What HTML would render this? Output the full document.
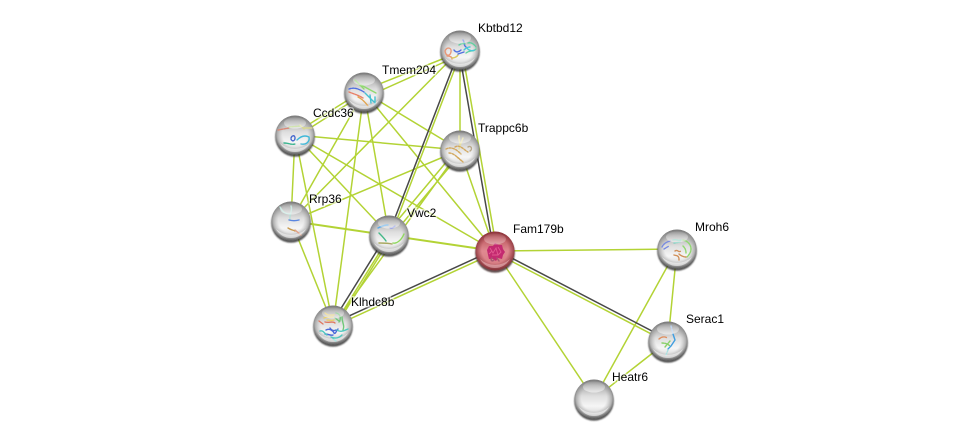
<!DOCTYPE html>
<html>
<head>
<meta charset="utf-8">
<style>
html,body{margin:0;padding:0;background:#fff;width:975px;height:444px;overflow:hidden}
svg{display:block}
text{font-family:"Liberation Sans",sans-serif;font-size:12px;fill:#000;paint-order:stroke;stroke:rgba(255,255,255,.55);stroke-width:3px}
.g{stroke:#b3d335;stroke-width:1.5;fill:none}
.k{stroke:#484848;stroke-width:1.5;fill:none}
.p{fill:none;stroke-width:1.4;stroke-linecap:round;stroke-linejoin:round}
</style>
</head>
<body>
<svg width="975" height="444" viewBox="0 0 975 444" xmlns="http://www.w3.org/2000/svg">
<defs>
<filter id="b" x="-30%" y="-30%" width="160%" height="160%"><feGaussianBlur stdDeviation=".9"/></filter>
<filter id="c" x="-30%" y="-30%" width="160%" height="160%"><feGaussianBlur stdDeviation=".35"/></filter>
<linearGradient id="s" x1="0" y1="0" x2="0" y2="1">
<stop offset="0" stop-color="#7c7c7c"/><stop offset=".14" stop-color="#a6a6a6"/><stop offset=".42" stop-color="#dedede"/><stop offset=".68" stop-color="#f6f6f6"/><stop offset=".86" stop-color="#dcdcdc"/><stop offset="1" stop-color="#a8a8a8"/>
</linearGradient>
<radialGradient id="e" cx="50%" cy="47%" r="52%">
<stop offset=".62" stop-color="#999" stop-opacity="0"/><stop offset=".88" stop-color="#777" stop-opacity=".5"/><stop offset="1" stop-color="#5c5c5c" stop-opacity=".9"/>
</radialGradient>
<linearGradient id="r" x1="0" y1="0" x2="0" y2="1">
<stop offset="0" stop-color="#9c4046"/><stop offset=".2" stop-color="#c25f66"/><stop offset=".5" stop-color="#e08a91"/><stop offset=".82" stop-color="#d87e84"/><stop offset="1" stop-color="#b45c62"/>
</linearGradient>
<radialGradient id="e2" cx="50%" cy="47%" r="52%">
<stop offset=".65" stop-color="#8a2f36" stop-opacity="0"/><stop offset="1" stop-color="#7a2a30" stop-opacity=".85"/>
</radialGradient>
<linearGradient id="h" x1="0" y1="0" x2="0" y2="1">
<stop offset="0" stop-color="#fff" stop-opacity=".15"/><stop offset="1" stop-color="#fff" stop-opacity=".8"/>
</linearGradient>
<g id="ball">
<circle cy="2" r="19.8" fill="#2e2e2e" opacity=".8" filter="url(#b)"/>
<circle r="19.5" fill="url(#s)"/>
<circle r="19.5" fill="url(#e)"/>
</g>
<g id="gloss">
<ellipse cx="0" cy="-12" rx="11" ry="5.5" fill="url(#h)" opacity=".7"/>
<path d="M-15 8A17 17 0 0 0 15 8A22 22 0 0 1-15 8Z" fill="#fff" opacity=".55"/>
</g>
</defs>

<!-- green edges -->
<g class="g">
<path d="M364 90L460 52M364 98L460 55M460 50L291 221M462 50L391 235M460 50V150M462 50L497 251" />
<path d="M364 90L295 133M365 93L296 137M364 92L460 150M364 92L495 251M364 92L389 235M364 92L333 325M364 92L291 221"/>
<path d="M295 135L460 150M295 135L291 221M295 135L333 325M295 135L389 235M295 135L495 251"/>
<path d="M460 150L291 221M458 148L387 233M462 152L391 237M460 150L333 325M460 150L495 251"/>
<path d="M291 221L333 325"/>
<path d="M291 221L495 251" stroke-width="1.9"/>
<path d="M390 235.500L334 325.500M391.500 236.600L335.500 326.600"/>
<path d="M333.600 326.400L495.600 252.400"/>
<path d="M495 251L677 249M494.300 252.300L667.300 342.300M495 251L594 399M677 249L668 341M677 249L594 399M668 341L594 399"/>
</g>
<!-- dark edges -->
<g class="k">
<path d="M459.400 50L388.400 235M458.800 50L493.800 251M387.300 234L331.300 324M332.400 323.600L494.400 249.600M495.700 249.700L668.700 339.700"/>
</g>

<!-- Kbtbd12 -->
<g transform="translate(460,50)"><use href="#ball"/>
<g filter="url(#c)">
<path class="p" stroke="#e89878" stroke-width="2.2" d="M-15 1c2-5 7-3 6 1s-5 5-6-1M-13 6c3 0 5 1 5 3"/>
<path class="p" stroke="#d8c860" stroke-width="2" d="M-8 8c2 0 5-1 6-3"/>
<path class="p" stroke="#5070e0" stroke-width="1.9" d="M-6 0c2 3 5 2 7 0M3-10c2 2 0 5 3 7M-2 4l6-2"/>
<path class="p" stroke="#60d0a0" stroke-width="3" stroke-dasharray="2 1" d="M-1-5c3-2 5-2 6-1M6 3c4-3 7-1 10-4M8-7c3-1 6 1 8 4"/>
<path class="p" stroke="#45c8d8" stroke-width="3" stroke-dasharray="2 1" d="M7-2c2 3 5 3 8 2M4 0c2-2 4-3 6-3"/>
</g><use href="#gloss"/></g>
<!-- Tmem204 -->
<g transform="translate(364,92)"><use href="#ball"/>
<g filter="url(#c)">
<path class="p" stroke="#90d870" stroke-width="1.2" d="M-9-12l9 9M-3-7l15 8"/>
<path class="p" stroke="#5070e0" stroke-width="2.4" stroke-dasharray="2 1" d="M-15-3c5-2 10 0 15 3"/>
<path class="p" stroke="#e88068" stroke-width="2.4" stroke-dasharray="2 1" d="M-15 0c5 2 9 3 14 6"/>
<path class="p" stroke="#e2a450" stroke-width="2.4" stroke-dasharray="2 1" d="M-6 5c4 2 7 5 10 9"/>
<path class="p" stroke="#45c0d0" stroke-width="1.2" d="M1 1l9 9M6 3l1 8M11 5l0 7"/>
</g><use href="#gloss"/></g>
<!-- Ccdc36 -->
<g transform="translate(295,135)"><use href="#ball"/>
<g filter="url(#c)">
<path class="p" stroke="#d98a78" stroke-width="3" stroke-dasharray="2 1" d="M-17-5l11-2"/>
<path class="p" stroke="#a8cc68" stroke-width="2.6" stroke-dasharray="2 1" d="M-6-8l12-1"/>
<path class="p" stroke="#d8d890" stroke-width="1" d="M5-10l4 4M9-7l8 0"/>
<path class="p" stroke="#4466cc" stroke-width="3" stroke-dasharray="2 1" d="M-4 3c1-3 4-3 4 0s-3 4-4 1"/>
<path class="p" stroke="#3eb590" stroke-width="2.4" stroke-dasharray="2 1" d="M-11 8c5 0 7 2 11 1"/>
<path class="p" stroke="#40b8d8" stroke-width="1.2" d="M2 5c4-4 8-5 12-3c1 5-3 8-8 7"/>
</g><use href="#gloss"/></g>
<!-- Trappc6b -->
<g transform="translate(460,150)"><use href="#ball"/>
<g filter="url(#c)">
<path class="p" stroke="#e8e0a0" stroke-width="1.6" d="M-1-14c-1 6 3 7 0 13M3-12l-4 10"/>
<path class="p" stroke="#d2a85e" stroke-width="2.6" stroke-dasharray="2 1.4" d="M-14-1c6-3 11 1 15 5M-11 3c5 0 9 5 13 8M-5-3c5-3 9 3 13 5M-3 7l6 5"/>
<path class="p" stroke="#b8a88a" d="M8-3c3-2 5 2 2 4"/>
</g><use href="#gloss"/></g>
<!-- Rrp36 -->
<g transform="translate(291,221)"><use href="#ball"/>
<g filter="url(#c)">
<path class="p" stroke="#b8e0d8" stroke-width=".9" d="M-11-14c3 6 6 7 11 7M0-15c2 5-2 8-1 14"/>
<path class="p" stroke="#5a86e0" stroke-width="3" d="M-2-1c4 1 6 1 10 0"/>
<path class="p" stroke="#c89a50" stroke-width="3" d="M-3 7c3 2 5 2 7 3"/>
<path class="p" stroke="#e0a088" stroke-width="1" d="M4 9l6 5"/>
</g><use href="#gloss"/></g>
<!-- Vwc2 -->
<g transform="translate(389,235)"><use href="#ball"/>
<g filter="url(#c)">
<path class="p" stroke="#58a8e8" stroke-width="3" d="M-11-7c4-2 7-3 10-3"/>
<path class="p" stroke="#45b888" stroke-width="3" d="M-10-2c3 3 5 5 7 8"/>
<path class="p" stroke="#a8a860" stroke-width="3" d="M-10 8c5 0 9 0 13 1"/>
<path class="p" stroke="#90d860" d="M4 8c3 1 8-2 11-9"/>
<path class="p" stroke="#7a88e0" stroke-width="1" d="M1-7c2 1 4-1 5-2"/>
</g><use href="#gloss"/></g>
<!-- Klhdc8b -->
<g transform="translate(333,325)"><use href="#ball"/>
<g filter="url(#c)">
<path class="p" stroke="#e8d070" stroke-width="1.4" d="M-8-12c3 3 6 2 9 2M-9-7c4-2 7 0 9-1M-6-5c3 0 5 1 7 0"/>
<path class="p" stroke="#70c878" stroke-width="1.4" d="M3-12c5 1 5 6 3 9M9-8c0 6 3 8 1 13M2-7c2 1 3 3 5 3"/>
<path class="p" stroke="#e07860" stroke-width="1.4" d="M-14-4l4 3M-8-3c4 1 8-1 10 1"/>
<path class="p" stroke="#4a68d8" stroke-width="1.5" d="M-7 5c4-2 7 1 8 3s3-3 4-4M-8 9c4 0 6 2 8 1M-3 3c2 3 4 3 6 2"/>
<path class="p" stroke="#50c8c0" stroke-width="1.4" d="M-13 6c3-1 4 2 7 4M4 5c4 3 8 0 11-1M-2 12c4 2 8 1 11-2M0 14l3 2"/>
</g><use href="#gloss"/></g>
<!-- Fam179b -->
<g transform="translate(495,251)">
<circle cy="2" r="19.8" fill="#3a2022" opacity=".8" filter="url(#b)"/>
<circle r="19.5" fill="url(#r)"/>
<circle r="19.5" fill="url(#e2)"/>
<g filter="url(#c)">
<path d="M-8-1l2-4 4 0 2-3 4 2 3 0 1 4 2 3-2 3-1 4-4-1-2 3-3-2-4 0-1-4z" fill="#c42a70"/>
<path d="M-5-3l3 5 3-5 2 7-6 0M3-4l3 5-3 3M-6 3l3-3" stroke="#e25a90" stroke-width=".9" fill="none"/>
<path class="p" stroke="#a85a70" stroke-width=".8" d="M-3 7c-2 2 0 4 2 2M2 7l2 3"/>
</g>
<ellipse cx="0" cy="-12" rx="11" ry="5.5" fill="url(#h)" opacity=".45"/>
<path d="M-15 8A17 17 0 0 0 15 8A22 22 0 0 1-15 8Z" fill="#f6c8cc" opacity=".5"/>
</g>
<!-- Mroh6 -->
<g transform="translate(677,249)"><use href="#ball"/>
<g filter="url(#c)">
<path class="p" stroke="#7a8ce0" stroke-width="1.7" stroke-dasharray="2 1" d="M-15-2c2-4 5-5 8-6M-13 0l5-3"/>
<path class="p" stroke="#80d0c0" stroke-width="1.7" stroke-dasharray="2 1" d="M-4-9c3-1 5 1 8 0M-3-6l6-1"/>
<path class="p" stroke="#90d870" stroke-width="2.2" stroke-dasharray="2 1" d="M6-9c5 1 8 5 8 9c0 3-2 6-4 8M6-3c2 2 3 4 3 7"/>
<path class="p" stroke="#d0905a" stroke-width="2.6" stroke-dasharray="2.5 .8" d="M-2 2c3-2 3 2 6 0M-3 6c3 1 5 0 5 5M2 5c2 2 5 3 7 3"/>
</g><use href="#gloss"/></g>
<!-- Serac1 -->
<g transform="translate(668,341)"><use href="#ball"/>
<g filter="url(#c)">
<path class="p" stroke="#a8c8f0" stroke-width="1" stroke-dasharray="2 1.5" d="M3-15l2 8"/>
<path class="p" stroke="#3f9ee0" stroke-width="1.5" d="M5-7l2 6-4 6-3 3"/>
<path class="p" stroke="#e09060" stroke-width="2.2" stroke-dasharray="2 1" d="M-9-2c2-2 6-3 8-1"/>
<path class="p" stroke="#88d068" stroke-width="2.6" stroke-dasharray="2 1" d="M-6 2c3 0 6 1 8 3M-3 6l5-6"/>
<path class="p" stroke="#a8e0e0" stroke-width="1" stroke-dasharray="2 1.5" d="M0 9l-2 5"/>
</g><use href="#gloss"/></g>
<!-- Heatr6 -->
<g transform="translate(594,399)"><use href="#ball"/><use href="#gloss"/></g>

<text x="478" y="32">Kbtbd12</text>
<text x="382" y="74">Tmem204</text>
<text x="313" y="117">Ccdc36</text>
<text x="478" y="132">Trappc6b</text>
<text x="309" y="203">Rrp36</text>
<text x="407" y="217">Vwc2</text>
<text x="513" y="233">Fam179b</text>
<text x="351" y="306">Klhdc8b</text>
<text x="695" y="231">Mroh6</text>
<text x="686" y="323">Serac1</text>
<text x="612" y="381">Heatr6</text>
</svg>
</body>
</html>
